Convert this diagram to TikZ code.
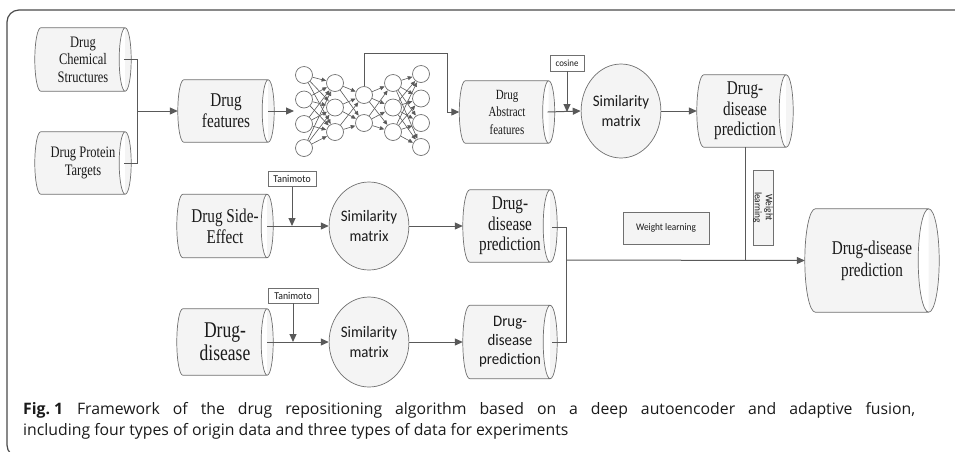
\documentclass[tikz,border=0pt]{standalone}
\usepackage{fontspec}
\usetikzlibrary{arrows.meta,shapes.geometric,calc,backgrounds}
\newfontfamily\lblserif[FakeStretch=0.78]{Liberation Serif}
\newfontfamily\lblsans[FakeStretch=0.93]{Carlito}
\newfontfamily\capfont{Open Sans}
\definecolor{edge}{HTML}{595959}
\definecolor{rim}{HTML}{707070}
\definecolor{body}{HTML}{F4F4F4}
\definecolor{ink}{HTML}{1A1A1A}
\definecolor{frame}{HTML}{4A4A4A}

% horizontal drum outline around a named node; #2 = half width of the end caps
\newcommand\drum[2]{%
  \begin{pgfonlayer}{background}
  \path[drumrim] let \p1=(#1.north east), \p2=(#1.south west), \n1={(\y1-\y2)/2} in
    (\x2+#2,\y1) -- (\x1-#2,\y1)
      arc[start angle=90,end angle=-90,x radius=#2,y radius=\n1]
      -- (\x2+#2,\y2)
      arc[start angle=270,end angle=90,x radius=#2,y radius=\n1] -- cycle
    (\x1-#2,\y1) arc[start angle=90,end angle=270,x radius=#2,y radius=\n1];
  \end{pgfonlayer}}

\tikzset{
  drumrim/.style={draw=rim,line width=0.7pt,fill=body},
  drumnode/.style={rectangle,inner sep=0pt,align=center,text=ink},
  simnode/.style={ellipse,draw=rim,line width=0.7pt,fill=body,inner sep=0pt,
    align=center,text=ink,font=\lblsans\fontsize{16}{20}\selectfont},
  tagbox/.style={rectangle,draw=rim,line width=0.6pt,fill=white,inner sep=0pt,
    text=ink,font=\lblsans\fontsize{10.5}{12}\selectfont},
  neuron/.style={circle,draw=rim,line width=0.7pt,fill=white,minimum size=17pt,inner sep=0pt},
  link/.style={draw=edge,line width=1pt},
  arr/.style={link,-{Triangle[length=8pt,width=7pt]}},
  netedge/.style={draw=edge,line width=0.6pt,-{Triangle[length=4.5pt,width=4pt]},shorten >=0.3pt},
  captext/.style={anchor=base west,inner sep=0pt,text=ink,font=\capfont\fontsize{15.8}{19}\selectfont},
}

\begin{document}
\begin{tikzpicture}[x=1pt,y=-1pt]
\useasboundingbox (0,0) rectangle (955,451);

% outer frame
\draw[frame,line width=1.2pt,rounded corners=12pt] (980,10) -- (7,10) -- (7,457) -- (980,457);

% data sources
\node[drumnode,minimum width=96pt,minimum height=63pt,font=\lblserif\fontsize{16}{17.5}\selectfont]
  (chem) at (83,59.5) {Drug\\Chemical\\Structures};
\node[drumnode,minimum width=96pt,minimum height=62pt,font=\lblserif\fontsize{16}{17.5}\selectfont]
  (prot) at (83,163) {Drug Protein\\Targets};
\node[drumnode,minimum width=96pt,minimum height=62pt,font=\lblserif\fontsize{19.5}{21}\selectfont]
  (feat) at (226,111) {Drug\\features};
\node[drumnode,minimum width=95pt,minimum height=62pt,font=\lblserif\fontsize{14}{17.5}\selectfont]
  (abs) at (507,112) {Drug\\Abstract\\features};
\node[drumnode,minimum width=96pt,minimum height=72pt,font=\lblserif\fontsize{19.5}{20.5}\selectfont]
  (ddpa) at (745,111) {Drug-\\disease\\prediction};
\node[drumnode,minimum width=96pt,minimum height=63pt,font=\lblserif\fontsize{19.5}{21}\selectfont]
  (side) at (225,226) {Drug Side-\\Effect};
\node[drumnode,minimum width=96pt,minimum height=66pt,font=\lblserif\fontsize{22.5}{23}\selectfont]
  (dis) at (225,342) {Drug-\\disease};
\node[drumnode,minimum width=94pt,minimum height=72pt,font=\lblserif\fontsize{19.5}{20.5}\selectfont]
  (ddpb) at (510,226) {Drug-\\disease\\prediction};
\node[drumnode,minimum width=94pt,minimum height=73pt,font=\lblsans\fontsize{16}{19}\selectfont]
  (ddpc) at (510,342) {Drug-\\disease\\prediction};
\node[drumnode,minimum width=134pt,minimum height=103pt,font=\lblserif\fontsize{19.5}{22}\selectfont]
  (big) at (872,260.5) {Drug-disease\\prediction};

\drum{chem}{6pt}
\drum{prot}{6pt}
\drum{feat}{6pt}
\drum{abs}{6pt}
\drum{ddpa}{7pt}
\drum{side}{6pt}
\drum{dis}{6pt}
\drum{ddpb}{7pt}
\drum{ddpc}{7pt}
\drum{big}{10.5pt}

% similarity matrices
\node[simnode,minimum width=74pt,minimum height=94pt] (sima) at (621,111) {Similarity\\matrix};
\node[simnode,minimum width=74pt,minimum height=88pt] (simb) at (369,226) {Similarity\\matrix};
\node[simnode,minimum width=74pt,minimum height=90pt] (simc) at (369,342) {Similarity\\matrix};

% measure labels
\node[tagbox,minimum width=34pt,minimum height=16pt,font=\lblsans\fontsize{9.5}{11}\selectfont]
  (cos) at (567,63) {cosine};
\node[tagbox,minimum width=48pt,minimum height=15pt] (tana) at (292,179) {Tanimoto};
\node[tagbox,minimum width=50pt,minimum height=15pt] (tanb) at (293,295.5) {Tanimoto};
\node[tagbox,fill=body,minimum width=86pt,minimum height=32pt,font=\lblsans\fontsize{10}{12}\selectfont]
  (wla) at (666,228) {Weight learning};
\node[tagbox,fill=body,rotate=-90,minimum width=75pt,minimum height=20pt,align=center,
  font=\lblsans\fontsize{10}{11}\selectfont] (wlb) at (763,207.5) {Weight\\learning};

% autoencoder
\foreach \k/\y in {1/75,2/99.5,3/124,4/148} \node[neuron] (na\k) at (304,\y) {};
\foreach \k/\y in {1/83,2/107.5,3/132} \node[neuron] (nb\k) at (335,\y) {};
\foreach \k/\y in {1/95,2/123} \node[neuron] (nc\k) at (364,\y) {};
\foreach \k/\y in {1/83,2/107.5,3/132} \node[neuron] (nd\k) at (393,\y) {};
\foreach \k/\y in {1/74,2/98.5,3/123,4/147} \node[neuron] (ne\k) at (421,\y) {};
\foreach \i in {1,...,4} \foreach \j in {1,...,3} \draw[netedge] (na\i) -- (nb\j);
\foreach \i in {1,...,3} \foreach \j in {1,...,2} \draw[netedge] (nb\i) -- (nc\j);
\foreach \i in {1,...,2} \foreach \j in {1,...,3} \draw[netedge] (nc\i) -- (nd\j);
\foreach \i in {1,...,3} \foreach \j in {1,...,4} \draw[netedge] (nd\i) -- (ne\j);

% connectors
\coordinate (ja) at (137,111);
\draw[link] ($(chem.east)+(-7,0)$) -| (ja);
\draw[link] ($(prot.east)+(-7,0)$) -| (ja);
\draw[arr] (ja) -- (feat.west);
\coordinate (netin) at (294,111);
\draw[arr] ($(feat.east)+(-6,0)$) -- (netin);
\coordinate (code) at (364,53);
\coordinate (drop) at (447,112);
\draw[arr] (nc1.north) -- (code) -| (drop) -- (abs.west);
\draw[arr] ($(abs.east)+(-7,0)$) -- (sima.west);
\draw[arr] (cos.south) -- (cos.south |- abs.east);
\draw[arr] (sima.east) -- (ddpa.west);

\draw[arr] ($(side.east)+(-6,0)$) -- (simb.west);
\draw[arr] (tana.south) -- (tana.south |- simb.west);
\draw[arr] (simb.east) -- (ddpb.west);
\draw[arr] ($(dis.east)+(-6,0)$) -- (simc.west);
\draw[arr] (tanb.south) -- (tanb.south |- simc.west);
\draw[arr] (simc.east) -- (ddpc.west);

\coordinate (jb) at (566,260);
\draw[link] ($(ddpb.east)+(-5,1)$) -| (jb);
\draw[link] ($(ddpc.east)+(-5,0)$) -| (jb);
\draw[arr] (jb) -- (big.west);
\draw[link] (ddpa.south) -- (ddpa.south |- jb);

% caption: first line justified to the full measure, last line at natural width
\node[captext] (capa) at (23,414)
  {\makebox[892pt][s]{\mbox{\textbf{Fig.\hspace{0.25em}1}}\hspace{14pt}Framework of the drug repositioning algorithm based on a deep autoencoder and adaptive fusion,}};
\node[captext] (capb) at (23,435)
  {including four types of origin data and three types of data for experiments};
\end{tikzpicture}
\end{document}
